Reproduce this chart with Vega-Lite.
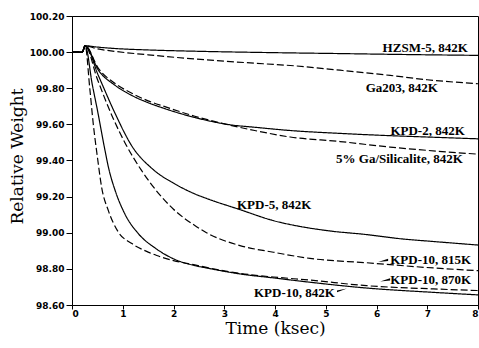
{
  "$schema": "https://vega.github.io/schema/vega-lite/v6.json",
  "width": 406,
  "height": 289,
  "autosize": "none",
  "padding": {"left": 72, "top": 16, "right": 1, "bottom": 43},
  "background": "white",
  "config": {
    "view": {"stroke": "black", "strokeWidth": 1},
    "axis": {
      "grid": false,
      "domainColor": "black",
      "tickColor": "black",
      "labelColor": "black",
      "titleColor": "black",
      "labelFont": "DejaVu Sans",
      "labelFontWeight": "bold",
      "labelFontSize": 9,
      "labelOverlap": false,
      "titleFont": "DejaVu Serif",
      "titleFontWeight": "normal",
      "titleFontSize": 17
    }
  },
  "datasets": {
    "curves": [
      {"s":"HZSM-5","t":0,"w":100},{"s":"HZSM-5","t":0.2,"w":100},{"s":"HZSM-5","t":0.26,"w":100.035},{"s":"HZSM-5","t":0.5,"w":100.028},{"s":"HZSM-5","t":0.85,"w":100.02},{"s":"HZSM-5","t":1.5,"w":100.012},{"s":"HZSM-5","t":2.42,"w":100.005},{"s":"HZSM-5","t":4,"w":99.997},{"s":"HZSM-5","t":5.28,"w":99.992},{"s":"HZSM-5","t":6.5,"w":99.987},{"s":"HZSM-5","t":8,"w":99.982},
      {"s":"Ga203","t":0,"w":100},{"s":"Ga203","t":0.2,"w":100},{"s":"Ga203","t":0.26,"w":100.035},{"s":"Ga203","t":0.5,"w":100.018},{"s":"Ga203","t":0.85,"w":100.004},{"s":"Ga203","t":1.5,"w":99.985},{"s":"Ga203","t":2.33,"w":99.964},{"s":"Ga203","t":3.0,"w":99.95},{"s":"Ga203","t":3.8,"w":99.935},{"s":"Ga203","t":4.3,"w":99.926},{"s":"Ga203","t":5.28,"w":99.9},{"s":"Ga203","t":6.27,"w":99.871},{"s":"Ga203","t":7,"w":99.847},{"s":"Ga203","t":8,"w":99.825},
      {"s":"KPD-2","t":0,"w":100},{"s":"KPD-2","t":0.2,"w":100},{"s":"KPD-2","t":0.26,"w":100.035},{"s":"KPD-2","t":0.52,"w":99.9},{"s":"KPD-2","t":0.85,"w":99.816},{"s":"KPD-2","t":1.18,"w":99.76},{"s":"KPD-2","t":1.5,"w":99.72},{"s":"KPD-2","t":1.83,"w":99.687},{"s":"KPD-2","t":2.42,"w":99.638},{"s":"KPD-2","t":3.11,"w":99.598},{"s":"KPD-2","t":3.64,"w":99.583},{"s":"KPD-2","t":4.3,"w":99.566},{"s":"KPD-2","t":5.28,"w":99.55},{"s":"KPD-2","t":6.13,"w":99.539},{"s":"KPD-2","t":7,"w":99.53},{"s":"KPD-2","t":8,"w":99.52},
      {"s":"GaSil","t":0,"w":100},{"s":"GaSil","t":0.2,"w":100},{"s":"GaSil","t":0.26,"w":100.035},{"s":"GaSil","t":0.52,"w":99.91},{"s":"GaSil","t":0.85,"w":99.826},{"s":"GaSil","t":1.18,"w":99.772},{"s":"GaSil","t":1.5,"w":99.73},{"s":"GaSil","t":1.83,"w":99.698},{"s":"GaSil","t":2.42,"w":99.645},{"s":"GaSil","t":3.0,"w":99.603},{"s":"GaSil","t":3.6,"w":99.566},{"s":"GaSil","t":4.3,"w":99.53},{"s":"GaSil","t":5.28,"w":99.505},{"s":"GaSil","t":6.27,"w":99.474},{"s":"GaSil","t":7,"w":99.456},{"s":"GaSil","t":8,"w":99.435},
      {"s":"KPD-5","t":0,"w":100},{"s":"KPD-5","t":0.2,"w":100},{"s":"KPD-5","t":0.26,"w":100.035},{"s":"KPD-5","t":0.52,"w":99.87},{"s":"KPD-5","t":0.85,"w":99.66},{"s":"KPD-5","t":1.18,"w":99.48},{"s":"KPD-5","t":1.6,"w":99.35},{"s":"KPD-5","t":2.03,"w":99.27},{"s":"KPD-5","t":2.42,"w":99.215},{"s":"KPD-5","t":2.65,"w":99.19},{"s":"KPD-5","t":3.31,"w":99.128},{"s":"KPD-5","t":3.97,"w":99.067},{"s":"KPD-5","t":4.49,"w":99.035},{"s":"KPD-5","t":5.08,"w":99.01},{"s":"KPD-5","t":5.8,"w":98.99},{"s":"KPD-5","t":6.5,"w":98.966},{"s":"KPD-5","t":7.1,"w":98.952},{"s":"KPD-5","t":8,"w":98.932},
      {"s":"KPD-10 815K","t":0,"w":100},{"s":"KPD-10 815K","t":0.2,"w":100},{"s":"KPD-10 815K","t":0.26,"w":100.035},{"s":"KPD-10 815K","t":0.5,"w":99.85},{"s":"KPD-10 815K","t":0.8,"w":99.64},{"s":"KPD-10 815K","t":1.04,"w":99.5},{"s":"KPD-10 815K","t":1.37,"w":99.345},{"s":"KPD-10 815K","t":1.7,"w":99.22},{"s":"KPD-10 815K","t":2.0,"w":99.13},{"s":"KPD-10 815K","t":2.42,"w":99.04},{"s":"KPD-10 815K","t":2.65,"w":99.0},{"s":"KPD-10 815K","t":3.31,"w":98.929},{"s":"KPD-10 815K","t":3.97,"w":98.892},{"s":"KPD-10 815K","t":4.69,"w":98.858},{"s":"KPD-10 815K","t":5.8,"w":98.834},{"s":"KPD-10 815K","t":7.12,"w":98.805},{"s":"KPD-10 815K","t":8,"w":98.79},
      {"s":"KPD-10 870K","t":0,"w":100},{"s":"KPD-10 870K","t":0.2,"w":100},{"s":"KPD-10 870K","t":0.26,"w":100.035},{"s":"KPD-10 870K","t":0.35,"w":99.8},{"s":"KPD-10 870K","t":0.42,"w":99.6},{"s":"KPD-10 870K","t":0.5,"w":99.42},{"s":"KPD-10 870K","t":0.585,"w":99.25},{"s":"KPD-10 870K","t":0.72,"w":99.12},{"s":"KPD-10 870K","t":0.91,"w":99.005},{"s":"KPD-10 870K","t":1.18,"w":98.94},{"s":"KPD-10 870K","t":1.5,"w":98.893},{"s":"KPD-10 870K","t":1.67,"w":98.874},{"s":"KPD-10 870K","t":2.0,"w":98.846},{"s":"KPD-10 870K","t":2.42,"w":98.822},{"s":"KPD-10 870K","t":2.65,"w":98.808},{"s":"KPD-10 870K","t":3.31,"w":98.775},{"s":"KPD-10 870K","t":3.97,"w":98.755},{"s":"KPD-10 870K","t":4.69,"w":98.738},{"s":"KPD-10 870K","t":5.8,"w":98.707},{"s":"KPD-10 870K","t":7.12,"w":98.689},{"s":"KPD-10 870K","t":8,"w":98.68},
      {"s":"KPD-10 842K","t":0,"w":100},{"s":"KPD-10 842K","t":0.2,"w":100},{"s":"KPD-10 842K","t":0.26,"w":100.035},{"s":"KPD-10 842K","t":0.4,"w":99.82},{"s":"KPD-10 842K","t":0.5,"w":99.68},{"s":"KPD-10 842K","t":0.65,"w":99.456},{"s":"KPD-10 842K","t":0.72,"w":99.36},{"s":"KPD-10 842K","t":0.85,"w":99.234},{"s":"KPD-10 842K","t":1.04,"w":99.105},{"s":"KPD-10 842K","t":1.31,"w":98.994},{"s":"KPD-10 842K","t":1.64,"w":98.915},{"s":"KPD-10 842K","t":2.03,"w":98.852},{"s":"KPD-10 842K","t":2.42,"w":98.818},{"s":"KPD-10 842K","t":2.65,"w":98.805},{"s":"KPD-10 842K","t":3.31,"w":98.772},{"s":"KPD-10 842K","t":3.97,"w":98.75},{"s":"KPD-10 842K","t":4.69,"w":98.726},{"s":"KPD-10 842K","t":5.8,"w":98.694},{"s":"KPD-10 842K","t":7.12,"w":98.67},{"s":"KPD-10 842K","t":8,"w":98.656}
    ],
    "labels": [
      {"label":"HZSM-5, 842K","t":7.8,"w":100.025,"side":"right"},
      {"label":"Ga203, 842K","t":7.21,"w":99.803,"side":"right"},
      {"label":"KPD-2, 842K","t":7.74,"w":99.566,"side":"right"},
      {"label":"5% Ga/Silicalite, 842K","t":7.7,"w":99.41,"side":"right"},
      {"label":"KPD-10, 842K","t":5.18,"w":98.665,"side":"right"},
      {"label":"KPD-5, 842K","t":3.25,"w":99.156,"side":"left"},
      {"label":"KPD-10, 815K","t":6.27,"w":98.851,"side":"left"},
      {"label":"KPD-10, 870K","t":6.27,"w":98.739,"side":"left"}
    ],
    "arrows": [
      {"label":"KPD-10, 815K","t":6.13,"w":98.846,"dir":"left"},
      {"label":"KPD-10, 870K","t":6.17,"w":98.738,"dir":"left"},
      {"label":"KPD-10, 842K","t":5.32,"w":98.683,"dir":"right"}
    ]
  },
  "layer": [
    {
      "data": {"name": "curves"},
      "mark": {"type": "line", "color": "black", "strokeWidth": 1.2, "interpolate": "monotone", "clip": true},
      "encoding": {
        "x": {"field": "t", "type": "quantitative",
              "scale": {"domain": [0, 8], "nice": false, "zero": false},
              "axis": {"title": "Time (ksec)", "values": [0,1,2,3,4,5,6,7,8], "format": "d", "tickSize": 4, "labelPadding": 0, "labelOverlap": false, "titleY": 28, "titleBaseline": "alphabetic"}},
        "y": {"field": "w", "type": "quantitative",
              "scale": {"domain": [98.6, 100.2], "nice": false, "zero": false},
              "axis": {"title": "Relative Weight", "values": [98.6,98.8,99.0,99.2,99.4,99.6,99.8,100.0,100.2], "tickCount": 9, "format": ".2f", "labelOverlap": false, "labelSeparation": 0, "tickSize": 6, "labelPadding": 2, "titleX": -55, "titleY": 140, "titleAngle": -90, "titleBaseline": "middle"}},
        "detail": {"field": "s"},
        "strokeDash": {"field": "s", "type": "nominal", "legend": null,
              "scale": {"domain": ["HZSM-5","Ga203","KPD-2","GaSil","KPD-5","KPD-10 815K","KPD-10 870K","KPD-10 842K"],
                        "range": [[1,0],[7,3],[1,0],[7,3],[1,0],[7,3],[7,3],[1,0]]}}
      }
    },
    {
      "data": {"name": "labels"},
      "transform": [{"filter": "datum.side == 'right'"}],
      "mark": {"type": "text", "align": "right", "baseline": "middle", "font": "Liberation Serif", "fontWeight": "bold", "fontSize": 13, "color": "black"},
      "encoding": {
        "x": {"field": "t", "type": "quantitative"},
        "y": {"field": "w", "type": "quantitative"},
        "text": {"field": "label"}
      }
    },
    {
      "data": {"name": "labels"},
      "transform": [{"filter": "datum.side == 'left'"}],
      "mark": {"type": "text", "align": "left", "baseline": "middle", "font": "Liberation Serif", "fontWeight": "bold", "fontSize": 13, "color": "black"},
      "encoding": {
        "x": {"field": "t", "type": "quantitative"},
        "y": {"field": "w", "type": "quantitative"},
        "text": {"field": "label"}
      }
    },
    {
      "data": {"name": "arrows"},
      "transform": [{"filter": "datum.dir == 'left'"}],
      "mark": {"type": "point", "shape": "M-1,0.3L1,-0.35L1,0.1Z", "filled": true, "color": "black", "opacity": 1, "size": 100},
      "encoding": {
        "x": {"field": "t", "type": "quantitative"},
        "y": {"field": "w", "type": "quantitative"}
      }
    },
    {
      "data": {"name": "arrows"},
      "transform": [{"filter": "datum.dir == 'right'"}],
      "mark": {"type": "point", "shape": "M1,-0.3L-1,0.1L-1,0.45Z", "filled": true, "color": "black", "opacity": 1, "size": 100},
      "encoding": {
        "x": {"field": "t", "type": "quantitative"},
        "y": {"field": "w", "type": "quantitative"}
      }
    }
  ]
}
